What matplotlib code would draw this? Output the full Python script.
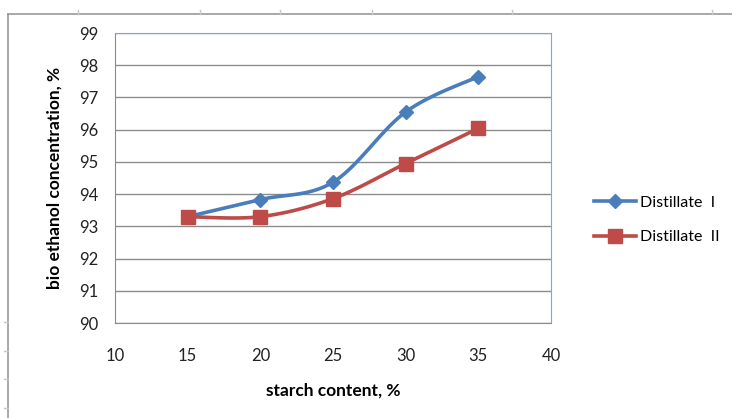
import numpy as np
import matplotlib.pyplot as plt
from matplotlib.lines import Line2D

plt.rcParams['font.family'] = ['Lato', 'DejaVu Sans']

starch = [15, 20, 25, 30, 35]
distillate_1 = [93.3, 93.83, 94.37, 96.55, 97.65]
distillate_2 = [93.3, 93.3, 93.86, 94.95, 96.04]
x_ticks = [10, 15, 20, 25, 30, 35, 40]
y_ticks = [90, 91, 92, 93, 94, 95, 96, 97, 98, 99]


def smooth(xs, ys, n=30):
    # Excel style smoothing: Catmull-Rom through the points
    xs = np.asarray(xs, float)
    ys = np.asarray(ys, float)
    px = np.concatenate([[xs[0]], xs, [xs[-1]]])
    py = np.concatenate([[ys[0]], ys, [ys[-1]]])
    outx, outy = [], []
    t = np.linspace(0, 1, n)
    for i in range(1, len(px) - 2):
        p0x, p1x, p2x, p3x = px[i - 1:i + 3]
        p0y, p1y, p2y, p3y = py[i - 1:i + 3]
        c1x, c1y = p1x + (p2x - p0x) / 6, p1y + (p2y - p0y) / 6
        c2x, c2y = p2x - (p3x - p1x) / 6, p2y - (p3y - p1y) / 6
        bx = (1 - t) ** 3 * p1x + 3 * (1 - t) ** 2 * t * c1x + 3 * (1 - t) * t ** 2 * c2x + t ** 3 * p2x
        by = (1 - t) ** 3 * p1y + 3 * (1 - t) ** 2 * t * c1y + 3 * (1 - t) * t ** 2 * c2y + t ** 3 * p2y
        outx.extend(bx)
        outy.extend(by)
    return outx, outy


blue = '#4A7EBB'
red = '#BE4B48'

fig = plt.figure(figsize=(7.32, 4.18), dpi=100)
ax = fig.add_axes([115 / 732, 1 - 323 / 418, 436 / 732, 290 / 418])

sx, sy = smooth(starch, distillate_1)
ax.plot(sx, sy, color=blue, lw=2.6, zorder=3)
ax.plot(starch, distillate_1, ls='none', marker='D', ms=7, color=blue, zorder=4)
sx, sy = smooth(starch, distillate_2)
ax.plot(sx, sy, color=red, lw=2.6, zorder=3)
ax.plot(starch, distillate_2, ls='none', marker='s', ms=10, color=red, zorder=4)

ax.set_xlim(10, 40)
ax.set_ylim(90, 99)
ax.set_xticks(x_ticks)
ax.set_yticks(y_ticks)
ax.grid(axis='y', color='#8c8c8c', lw=1)
ax.set_axisbelow(True)
ax.tick_params(length=0, labelsize=12, colors='#222222')
ax.tick_params(axis='x', pad=18)
ax.tick_params(axis='y', pad=12)
for s in ['left', 'bottom']:
    ax.spines[s].set_color('#8c8c8c')
for s in ['top', 'right']:
    ax.spines[s].set_color('#7fa6d6')

ax.set_xlabel('starch content, %', fontsize=12.5, fontweight='bold', labelpad=13)
ax.set_ylabel('bio ethanol concentration, %', fontsize=12.5, fontweight='bold', labelpad=12)

handles = [
    Line2D([], [], color=blue, lw=2.6, marker='D', ms=7),
    Line2D([], [], color=red, lw=2.6, marker='s', ms=10),
]
fig.legend(handles, ['Distillate  I', 'Distillate  II'], loc='center left',
           bbox_to_anchor=(580 / 732, 1 - 220 / 418), frameon=False,
           fontsize=11.5, handlelength=2.6, handletextpad=0.25, labelspacing=1.25)

# outer chart frame
fig.add_artist(Line2D([8 / 732, 8 / 732], [0, 1 - 14 / 418], color='#9a9a9a', lw=1.2))
fig.add_artist(Line2D([8 / 732, 1], [1 - 14 / 418, 1 - 14 / 418], color='#9a9a9a', lw=1.2))
for xp in [78, 200, 280, 372, 512, 712]:
    fig.add_artist(Line2D([xp / 732] * 2, [1 - 14 / 418, 1 - 10 / 418], color='#c8c8c8', lw=1))
for yp in [322, 351, 379, 408]:
    fig.add_artist(Line2D([4 / 732, 8 / 732], [1 - yp / 418] * 2, color='#c8c8c8', lw=1))

fig.savefig('out.png', dpi=100)
